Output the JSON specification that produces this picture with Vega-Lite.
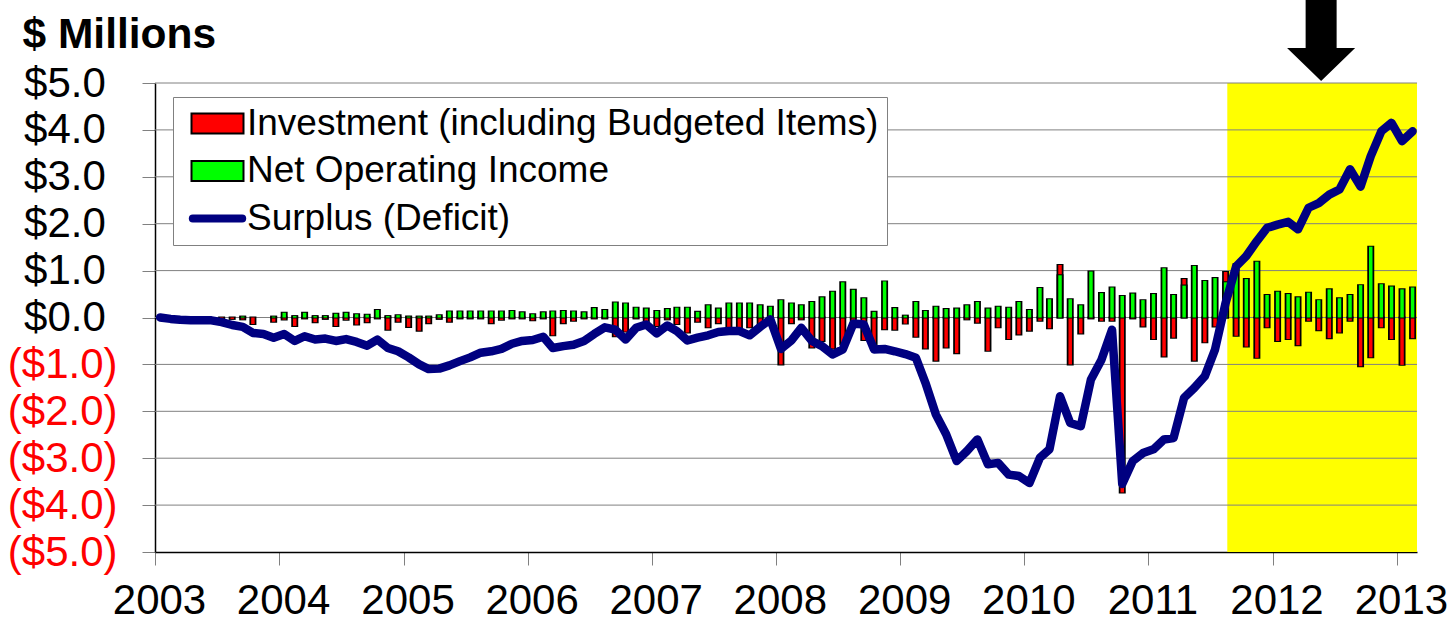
{
"$schema": "https://vega.github.io/schema/vega-lite/v6.json",
"width": 1262, "height": 469,
"autosize": {"type": "none"},
"padding": {"left": 155, "top": 83, "right": 34, "bottom": 69},
"background": "white",
"config": {"view": {"stroke": null}, "font": "Liberation Sans"},
"datasets": {
"highlight": [{"start": "2011-08-21", "end": "2013-03-01"}],
"grid": [{"value": -4}, {"value": -3}, {"value": -2}, {"value": -1}, {"value": 0}, {"value": 1}, {"value": 2}, {"value": 3}, {"value": 4}, {"value": 5}],
"arrow": [{"month": "2012-05-23", "value": 5.917}],
"investment": [
{"month":"2003-07-16","value":-0.03},{"month":"2003-08-16","value":-0.03},{"month":"2003-09-16","value":-0.04},{"month":"2003-10-16","value":-0.14},{"month":"2003-12-16","value":-0.09},
{"month":"2004-01-16","value":-0.04},{"month":"2004-02-16","value":-0.18},{"month":"2004-03-16","value":-0.02},{"month":"2004-04-16","value":-0.1},{"month":"2004-05-16","value":-0.03},{"month":"2004-06-16","value":-0.18},{"month":"2004-07-16","value":-0.05},{"month":"2004-08-16","value":-0.15},{"month":"2004-09-16","value":-0.1},{"month":"2004-10-16","value":-0.02},{"month":"2004-11-16","value":-0.26},{"month":"2004-12-16","value":-0.09},
{"month":"2005-01-16","value":-0.2},{"month":"2005-02-16","value":-0.28},{"month":"2005-03-16","value":-0.12},{"month":"2005-04-16","value":-0.03},{"month":"2005-05-16","value":-0.09},{"month":"2005-06-16","value":-0.02},{"month":"2005-07-16","value":-0.02},{"month":"2005-08-16","value":-0.02},{"month":"2005-09-16","value":-0.12},{"month":"2005-10-16","value":-0.05},{"month":"2005-11-16","value":-0.02},{"month":"2005-12-16","value":-0.02},
{"month":"2006-01-16","value":-0.06},{"month":"2006-02-16","value":-0.02},{"month":"2006-03-16","value":-0.38},{"month":"2006-04-16","value":-0.12},{"month":"2006-05-16","value":-0.07},{"month":"2006-06-16","value":-0.02},{"month":"2006-07-16","value":-0.02},{"month":"2006-08-16","value":-0.02},{"month":"2006-09-16","value":-0.4},{"month":"2006-10-16","value":-0.3},{"month":"2006-11-16","value":-0.02},{"month":"2006-12-16","value":-0.11},
{"month":"2007-01-16","value":-0.18},{"month":"2007-02-16","value":-0.04},{"month":"2007-03-16","value":-0.14},{"month":"2007-04-16","value":-0.32},{"month":"2007-05-16","value":-0.09},{"month":"2007-06-16","value":-0.21},{"month":"2007-07-16","value":-0.12},{"month":"2007-08-16","value":-0.25},{"month":"2007-09-16","value":-0.23},{"month":"2007-10-16","value":-0.21},{"month":"2007-11-16","value":-0.14},{"month":"2007-12-16","value":-0.04},
{"month":"2008-01-16","value":-1.0},{"month":"2008-02-16","value":-0.12},{"month":"2008-03-16","value":-0.04},{"month":"2008-04-16","value":-0.64},{"month":"2008-05-16","value":-0.5},{"month":"2008-06-16","value":-0.66},{"month":"2008-07-16","value":-0.57},{"month":"2008-08-16","value":-0.1},{"month":"2008-09-16","value":-0.48},{"month":"2008-10-16","value":-0.67},{"month":"2008-11-16","value":-0.25},{"month":"2008-12-16","value":-0.26},
{"month":"2009-01-16","value":-0.13},{"month":"2009-02-16","value":-0.41},{"month":"2009-03-16","value":-0.66},{"month":"2009-04-16","value":-0.92},{"month":"2009-05-16","value":-0.64},{"month":"2009-06-16","value":-0.76},{"month":"2009-07-16","value":-0.04},{"month":"2009-08-16","value":-0.11},{"month":"2009-09-16","value":-0.71},{"month":"2009-10-16","value":-0.21},{"month":"2009-11-16","value":-0.46},{"month":"2009-12-16","value":-0.36},
{"month":"2010-01-16","value":-0.28},{"month":"2010-02-16","value":-0.07},{"month":"2010-03-16","value":-0.23},{"month":"2010-04-16","value":1.12},{"month":"2010-05-16","value":-1.0},{"month":"2010-06-16","value":-0.34},{"month":"2010-07-16","value":-0.02},{"month":"2010-08-16","value":-0.07},{"month":"2010-09-16","value":-0.07},{"month":"2010-10-16","value":-3.73},{"month":"2010-11-16","value":-0.02},{"month":"2010-12-16","value":-0.19},
{"month":"2011-01-16","value":-0.46},{"month":"2011-02-16","value":-0.83},{"month":"2011-03-16","value":-0.43},{"month":"2011-04-16","value":0.82},{"month":"2011-05-16","value":-0.92},{"month":"2011-06-16","value":-0.53},{"month":"2011-07-16","value":-0.19},{"month":"2011-08-16","value":0.97},{"month":"2011-09-16","value":-0.39},{"month":"2011-10-16","value":-0.62},{"month":"2011-11-16","value":-0.86},{"month":"2011-12-16","value":-0.21},
{"month":"2012-01-16","value":-0.5},{"month":"2012-02-16","value":-0.46},{"month":"2012-03-16","value":-0.59},{"month":"2012-04-16","value":-0.07},{"month":"2012-05-16","value":-0.27},{"month":"2012-06-16","value":-0.44},{"month":"2012-07-16","value":-0.32},{"month":"2012-08-16","value":-0.07},{"month":"2012-09-16","value":-1.04},{"month":"2012-10-16","value":-0.85},{"month":"2012-11-16","value":-0.21},{"month":"2012-12-16","value":-0.46},
{"month":"2013-01-16","value":-1.01},{"month":"2013-02-16","value":-0.44}
],
"noi": [
{"month":"2003-09-16","value":0.02},{"month":"2003-12-16","value":0.02},
{"month":"2004-01-16","value":0.1},{"month":"2004-02-16","value":0.03},{"month":"2004-03-16","value":0.1},{"month":"2004-04-16","value":0.03},{"month":"2004-05-16","value":0.03},{"month":"2004-06-16","value":0.08},{"month":"2004-07-16","value":0.1},{"month":"2004-08-16","value":0.07},{"month":"2004-09-16","value":0.06},{"month":"2004-10-16","value":0.16},{"month":"2004-11-16","value":0.03},{"month":"2004-12-16","value":0.05},
{"month":"2005-01-16","value":0.02},{"month":"2005-02-16","value":0.02},{"month":"2005-03-16","value":0.02},{"month":"2005-04-16","value":0.05},{"month":"2005-05-16","value":0.13},{"month":"2005-06-16","value":0.13},{"month":"2005-07-16","value":0.13},{"month":"2005-08-16","value":0.13},{"month":"2005-09-16","value":0.13},{"month":"2005-10-16","value":0.13},{"month":"2005-11-16","value":0.14},{"month":"2005-12-16","value":0.11},
{"month":"2006-01-16","value":0.07},{"month":"2006-02-16","value":0.11},{"month":"2006-03-16","value":0.13},{"month":"2006-04-16","value":0.14},{"month":"2006-05-16","value":0.13},{"month":"2006-06-16","value":0.11},{"month":"2006-07-16","value":0.2},{"month":"2006-08-16","value":0.16},{"month":"2006-09-16","value":0.32},{"month":"2006-10-16","value":0.3},{"month":"2006-11-16","value":0.21},{"month":"2006-12-16","value":0.19},
{"month":"2007-01-16","value":0.14},{"month":"2007-02-16","value":0.18},{"month":"2007-03-16","value":0.21},{"month":"2007-04-16","value":0.21},{"month":"2007-05-16","value":0.12},{"month":"2007-06-16","value":0.26},{"month":"2007-07-16","value":0.19},{"month":"2007-08-16","value":0.3},{"month":"2007-09-16","value":0.3},{"month":"2007-10-16","value":0.3},{"month":"2007-11-16","value":0.26},{"month":"2007-12-16","value":0.23},
{"month":"2008-01-16","value":0.37},{"month":"2008-02-16","value":0.3},{"month":"2008-03-16","value":0.26},{"month":"2008-04-16","value":0.33},{"month":"2008-05-16","value":0.43},{"month":"2008-06-16","value":0.55},{"month":"2008-07-16","value":0.75},{"month":"2008-08-16","value":0.59},{"month":"2008-09-16","value":0.41},{"month":"2008-10-16","value":0.12},{"month":"2008-11-16","value":0.77},{"month":"2008-12-16","value":0.2},
{"month":"2009-01-16","value":0.04},{"month":"2009-02-16","value":0.33},{"month":"2009-03-16","value":0.14},{"month":"2009-04-16","value":0.23},{"month":"2009-05-16","value":0.18},{"month":"2009-06-16","value":0.19},{"month":"2009-07-16","value":0.26},{"month":"2009-08-16","value":0.33},{"month":"2009-09-16","value":0.19},{"month":"2009-10-16","value":0.23},{"month":"2009-11-16","value":0.21},{"month":"2009-12-16","value":0.33},
{"month":"2010-01-16","value":0.16},{"month":"2010-02-16","value":0.63},{"month":"2010-03-16","value":0.39},{"month":"2010-04-16","value":0.9},{"month":"2010-05-16","value":0.39},{"month":"2010-06-16","value":0.26},{"month":"2010-07-16","value":0.98},{"month":"2010-08-16","value":0.52},{"month":"2010-09-16","value":0.64},{"month":"2010-10-16","value":0.46},{"month":"2010-11-16","value":0.51},{"month":"2010-12-16","value":0.37},
{"month":"2011-01-16","value":0.5},{"month":"2011-02-16","value":1.05},{"month":"2011-03-16","value":0.48},{"month":"2011-04-16","value":0.68},{"month":"2011-05-16","value":1.1},{"month":"2011-06-16","value":0.78},{"month":"2011-07-16","value":0.84},{"month":"2011-08-16","value":0.75},{"month":"2011-09-16","value":1.14},{"month":"2011-10-16","value":0.82},{"month":"2011-11-16","value":1.19},{"month":"2011-12-16","value":0.48},
{"month":"2012-01-16","value":0.55},{"month":"2012-02-16","value":0.5},{"month":"2012-03-16","value":0.43},{"month":"2012-04-16","value":0.53},{"month":"2012-05-16","value":0.37},{"month":"2012-06-16","value":0.6},{"month":"2012-07-16","value":0.41},{"month":"2012-08-16","value":0.48},{"month":"2012-09-16","value":0.69},{"month":"2012-10-16","value":1.51},{"month":"2012-11-16","value":0.71},{"month":"2012-12-16","value":0.66},
{"month":"2013-01-16","value":0.6},{"month":"2013-02-16","value":0.64}
],
"surplus": [
{"month":"2003-01-16","value":0},{"month":"2003-02-16","value":-0.03},{"month":"2003-03-16","value":-0.05},{"month":"2003-04-16","value":-0.06},{"month":"2003-05-16","value":-0.06},{"month":"2003-06-16","value":-0.06},{"month":"2003-07-16","value":-0.1},{"month":"2003-08-16","value":-0.16},{"month":"2003-09-16","value":-0.2},{"month":"2003-10-16","value":-0.33},{"month":"2003-11-16","value":-0.35},{"month":"2003-12-16","value":-0.43},
{"month":"2004-01-16","value":-0.35},{"month":"2004-02-16","value":-0.5},{"month":"2004-03-16","value":-0.4},{"month":"2004-04-16","value":-0.47},{"month":"2004-05-16","value":-0.45},{"month":"2004-06-16","value":-0.5},{"month":"2004-07-16","value":-0.46},{"month":"2004-08-16","value":-0.52},{"month":"2004-09-16","value":-0.6},{"month":"2004-10-16","value":-0.47},{"month":"2004-11-16","value":-0.65},{"month":"2004-12-16","value":-0.72},
{"month":"2005-01-16","value":-0.85},{"month":"2005-02-16","value":-1.0},{"month":"2005-03-16","value":-1.1},{"month":"2005-04-16","value":-1.09},{"month":"2005-05-16","value":-1.02},{"month":"2005-06-16","value":-0.93},{"month":"2005-07-16","value":-0.85},{"month":"2005-08-16","value":-0.75},{"month":"2005-09-16","value":-0.72},{"month":"2005-10-16","value":-0.67},{"month":"2005-11-16","value":-0.56},{"month":"2005-12-16","value":-0.5},
{"month":"2006-01-16","value":-0.48},{"month":"2006-02-16","value":-0.41},{"month":"2006-03-16","value":-0.65},{"month":"2006-04-16","value":-0.61},{"month":"2006-05-16","value":-0.58},{"month":"2006-06-16","value":-0.5},{"month":"2006-07-16","value":-0.35},{"month":"2006-08-16","value":-0.21},{"month":"2006-09-16","value":-0.26},{"month":"2006-10-16","value":-0.47},{"month":"2006-11-16","value":-0.22},{"month":"2006-12-16","value":-0.15},
{"month":"2007-01-16","value":-0.34},{"month":"2007-02-16","value":-0.17},{"month":"2007-03-16","value":-0.29},{"month":"2007-04-16","value":-0.49},{"month":"2007-05-16","value":-0.43},{"month":"2007-06-16","value":-0.38},{"month":"2007-07-16","value":-0.31},{"month":"2007-08-16","value":-0.29},{"month":"2007-09-16","value":-0.29},{"month":"2007-10-16","value":-0.38},{"month":"2007-11-16","value":-0.2},{"month":"2007-12-16","value":-0.04},
{"month":"2008-01-16","value":-0.67},{"month":"2008-02-16","value":-0.49},{"month":"2008-03-16","value":-0.22},{"month":"2008-04-16","value":-0.5},{"month":"2008-05-16","value":-0.61},{"month":"2008-06-16","value":-0.79},{"month":"2008-07-16","value":-0.68},{"month":"2008-08-16","value":-0.13},{"month":"2008-09-16","value":-0.15},{"month":"2008-10-16","value":-0.68},{"month":"2008-11-16","value":-0.67},{"month":"2008-12-16","value":-0.72},
{"month":"2009-01-16","value":-0.78},{"month":"2009-02-16","value":-0.86},{"month":"2009-03-16","value":-1.39},{"month":"2009-04-16","value":-2.07},{"month":"2009-05-16","value":-2.49},{"month":"2009-06-16","value":-3.06},{"month":"2009-07-16","value":-2.85},{"month":"2009-08-16","value":-2.6},{"month":"2009-09-16","value":-3.13},{"month":"2009-10-16","value":-3.1},{"month":"2009-11-16","value":-3.35},{"month":"2009-12-16","value":-3.38},
{"month":"2010-01-16","value":-3.53},{"month":"2010-02-16","value":-2.99},{"month":"2010-03-16","value":-2.81},{"month":"2010-04-16","value":-1.68},{"month":"2010-05-16","value":-2.25},{"month":"2010-06-16","value":-2.32},{"month":"2010-07-16","value":-1.32},{"month":"2010-08-16","value":-0.9},{"month":"2010-09-16","value":-0.26},{"month":"2010-10-16","value":-3.55},{"month":"2010-11-16","value":-3.06},{"month":"2010-12-16","value":-2.89},
{"month":"2011-01-16","value":-2.81},{"month":"2011-02-16","value":-2.6},{"month":"2011-03-16","value":-2.57},{"month":"2011-04-16","value":-1.71},{"month":"2011-05-16","value":-1.5},{"month":"2011-06-16","value":-1.25},{"month":"2011-07-16","value":-0.68},{"month":"2011-08-16","value":0.31},{"month":"2011-09-16","value":1.09},{"month":"2011-10-16","value":1.31},{"month":"2011-11-16","value":1.63},{"month":"2011-12-16","value":1.91},
{"month":"2012-01-16","value":1.98},{"month":"2012-02-16","value":2.04},{"month":"2012-03-16","value":1.88},{"month":"2012-04-16","value":2.34},{"month":"2012-05-16","value":2.44},{"month":"2012-06-16","value":2.62},{"month":"2012-07-16","value":2.73},{"month":"2012-08-16","value":3.16},{"month":"2012-09-16","value":2.79},{"month":"2012-10-16","value":3.44},{"month":"2012-11-16","value":3.97},{"month":"2012-12-16","value":4.15},
{"month":"2013-01-16","value":3.76},{"month":"2013-02-16","value":3.97}
]
},
"layer": [
{
"data": {"name": "highlight"},
"mark": {"type": "rect", "color": "#ffff00"},
"encoding": {
"x": {"field": "start", "type": "temporal",
"scale": {"type": "utc", "nice": false, "padding": 0, "domain": [{"year": 2003, "month": 1, "date": 1, "utc": true}, {"year": 2013, "month": 3, "date": 1, "utc": true}]},
"axis": {"title": null, "labelExpr": "utcFormat(datum.value, '%Y')", "tickCount": {"interval": "year", "step": 1}, "grid": false, "labelFontSize": 42, "labelColor": "black", "labelPadding": 15, "labelOffset": 4, "tickSize": 13, "tickColor": "#808080", "tickWidth": 1, "domainColor": "black", "domainWidth": 1.5, "labelFlush": false, "labelOverlap": false}},
"x2": {"field": "end"},
"y": {"datum": -5, "type": "quantitative",
"scale": {"domain": [-5, 5], "nice": false, "zero": false, "padding": 0},
"axis": {"title": "$ Millions", "titleAngle": 0, "titleAlign": "left", "titleBaseline": "alphabetic", "titleX": -133, "titleY": -36, "titleFontSize": 42.5, "titleFontWeight": "bold", "titleColor": "black",
"values": [-5, -4, -3, -2, -1, 0, 1, 2, 3, 4, 5],
"labelExpr": "datum.value < 0 ? '($' + format(-datum.value, '.1f') + ')' : '$' + format(datum.value, '.1f') + '\u00a0\u200b'",
"labelFontSize": 42, "labelColor": {"condition": {"test": "datum.value < 0", "value": "#ff0000"}, "value": "black"},
"labelPadding": 25, "tickSize": 13, "tickColor": "#808080", "tickWidth": 1, "domainColor": "black", "domainWidth": 1.5, "grid": false, "labelOverlap": false}},
"y2": {"datum": 5}
}
},
{
"data": {"name": "grid"},
"mark": {"type": "rule", "color": "#808080", "strokeWidth": 1},
"encoding": {"y": {"field": "value", "type": "quantitative", "scale": {"domain": [-5, 5], "nice": false, "zero": false, "padding": 0}}}
},
{
"data": {"name": "investment"},
"mark": {"type": "bar", "size": 5, "fill": "black", "stroke": "black", "strokeWidth": 2},
"encoding": {
"x": {"field": "month", "type": "temporal", "scale": {"type": "utc", "nice": false, "padding": 0, "domain": [{"year": 2003, "month": 1, "date": 1, "utc": true}, {"year": 2013, "month": 3, "date": 1, "utc": true}]}},
"y": {"field": "value", "type": "quantitative", "stack": null, "scale": {"domain": [-5, 5], "nice": false, "zero": false, "padding": 0}}
}
},
{
"data": {"name": "investment"},
"mark": {"type": "bar", "size": 3.5},
"encoding": {
"x": {"field": "month", "type": "temporal", "scale": {"type": "utc", "nice": false, "padding": 0, "domain": [{"year": 2003, "month": 1, "date": 1, "utc": true}, {"year": 2013, "month": 3, "date": 1, "utc": true}]}},
"y": {"field": "value", "type": "quantitative", "stack": null, "scale": {"domain": [-5, 5], "nice": false, "zero": false, "padding": 0}},
"color": {"datum": "Investment (including Budgeted Items)",
"scale": {"domain": ["Investment (including Budgeted Items)", "Net Operating Income", "Surplus (Deficit)"], "range": ["#ff0000", "#00ff00", "#000080"]},
"legend": {"title": null, "orient": "none", "legendX": 18, "legendY": 14, "labelFontSize": 37, "labelColor": "black", "labelLimit": 1000, "labelOffset": 11,
"fillColor": "white", "strokeColor": "#808080", "padding": 8, "rowPadding": 9.5,
"symbolSize": 2704, "symbolOffset": 18, "symbolType": "M-1,-0.38H1V0.38H-1Z", "symbolStrokeColor": "black", "symbolStrokeWidth": 2,
"encode": {"symbols": {"update": {
"shape": {"signal": "datum.value === 'Surplus (Deficit)' ? 'M-0.95,0H0.95' : 'M-1,-0.38H1V0.38H-1Z'"},
"stroke": {"signal": "datum.value === 'Surplus (Deficit)' ? '#000080' : '#000000'"},
"strokeWidth": {"signal": "datum.value === 'Surplus (Deficit)' ? 8 : 2"},
"strokeCap": {"value": "round"}
}}}}
}
}
},
{
"data": {"name": "noi"},
"mark": {"type": "bar", "size": 5, "fill": "black", "stroke": "black", "strokeWidth": 2},
"encoding": {
"x": {"field": "month", "type": "temporal", "scale": {"type": "utc", "nice": false, "padding": 0, "domain": [{"year": 2003, "month": 1, "date": 1, "utc": true}, {"year": 2013, "month": 3, "date": 1, "utc": true}]}},
"y": {"field": "value", "type": "quantitative", "stack": null, "scale": {"domain": [-5, 5], "nice": false, "zero": false, "padding": 0}}
}
},
{
"data": {"name": "noi"},
"mark": {"type": "bar", "size": 3.5},
"encoding": {
"x": {"field": "month", "type": "temporal", "scale": {"type": "utc", "nice": false, "padding": 0, "domain": [{"year": 2003, "month": 1, "date": 1, "utc": true}, {"year": 2013, "month": 3, "date": 1, "utc": true}]}},
"y": {"field": "value", "type": "quantitative", "stack": null, "scale": {"domain": [-5, 5], "nice": false, "zero": false, "padding": 0}},
"color": {"datum": "Net Operating Income",
"scale": {"domain": ["Investment (including Budgeted Items)", "Net Operating Income", "Surplus (Deficit)"], "range": ["#ff0000", "#00ff00", "#000080"]}}
}
},
{
"data": {"name": "surplus"},
"mark": {"type": "line", "color": "#000080", "strokeWidth": 8.5, "strokeJoin": "round", "strokeCap": "round"},
"encoding": {
"x": {"field": "month", "type": "temporal", "scale": {"type": "utc", "nice": false, "padding": 0, "domain": [{"year": 2003, "month": 1, "date": 1, "utc": true}, {"year": 2013, "month": 3, "date": 1, "utc": true}]}},
"y": {"field": "value", "type": "quantitative", "scale": {"domain": [-5, 5], "nice": false, "zero": false, "padding": 0}}
}
},
{
"data": {"name": "arrow"},
"mark": {"type": "point", "shape": "M-0.378,-1.1L0.378,-1.1L0.378,0.195L0.83,0.195L0,1L-0.83,0.195L-0.378,0.195Z", "size": 6724, "filled": true, "color": "black", "opacity": 1, "strokeWidth": 0},
"encoding": {
"x": {"field": "month", "type": "temporal", "scale": {"type": "utc", "nice": false, "padding": 0, "domain": [{"year": 2003, "month": 1, "date": 1, "utc": true}, {"year": 2013, "month": 3, "date": 1, "utc": true}]}},
"y": {"field": "value", "type": "quantitative", "scale": {"domain": [-5, 5], "nice": false, "zero": false, "padding": 0}}
}
}
]
}
